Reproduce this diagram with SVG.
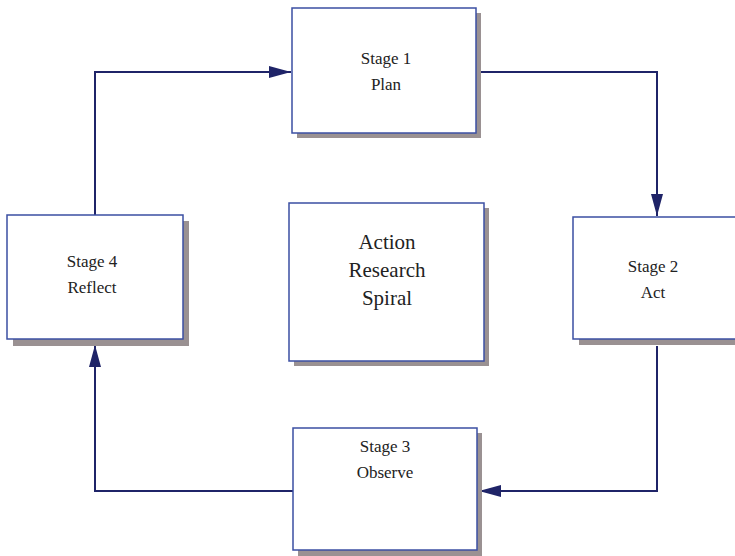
<svg xmlns="http://www.w3.org/2000/svg" width="735" height="556" viewBox="0 0 735 556">
<defs>
<style>
.box{fill:#fff;stroke:#3b4fa3;stroke-width:1.5}
.sh{fill:#9a9192}
.t{font-family:"Liberation Serif",serif;font-size:17px;fill:#222;text-anchor:middle}
.tc{font-family:"Liberation Serif",serif;font-size:21px;fill:#222;text-anchor:middle}
.c{fill:none;stroke:#1f2468;stroke-width:2}
</style>
<marker id="ah" viewBox="0 0 22 12" refX="22" refY="6" markerWidth="22" markerHeight="12" markerUnits="userSpaceOnUse" orient="auto">
<path d="M0,0 L22,6 L0,12 Z" fill="#1f2468"/>
</marker>
</defs>
<rect width="735" height="556" fill="#fff"/>
<g id="connectors">
<path class="c" d="M476,72 H657 V216" marker-end="url(#ah)"/>
<path class="c" d="M657,346 V491 H479" marker-end="url(#ah)"/>
<path class="c" d="M293,491 H95 V345" marker-end="url(#ah)"/>
<path class="c" d="M95,215 V72 H291" marker-end="url(#ah)"/>
</g>
<g id="stage1">
<rect class="sh" x="297" y="13" width="184" height="125"/>
<rect class="box" x="292" y="8" width="184" height="125"/>
<text class="t" x="386" y="64">Stage 1</text>
<text class="t" x="386" y="90">Plan</text>
</g>
<g id="stage2">
<rect class="sh" x="579" y="223" width="170" height="122"/>
<rect class="box" x="573" y="217" width="170" height="122"/>
<text class="t" x="653" y="272">Stage 2</text>
<text class="t" x="653" y="298">Act</text>
</g>
<g id="stage3">
<rect class="sh" x="298" y="433" width="184" height="123"/>
<rect class="box" x="293" y="428" width="184" height="122"/>
<text class="t" x="385" y="452">Stage 3</text>
<text class="t" x="385" y="478">Observe</text>
</g>
<g id="stage4">
<rect class="sh" x="13" y="221" width="176" height="125"/>
<rect class="box" x="7" y="215" width="176" height="124"/>
<text class="t" x="92" y="267">Stage 4</text>
<text class="t" x="92" y="293">Reflect</text>
</g>
<g id="center">
<rect class="sh" x="294" y="208" width="195" height="158"/>
<rect class="box" x="289" y="203" width="195" height="158"/>
<text class="tc" x="387" y="249">Action</text>
<text class="tc" x="387" y="277">Research</text>
<text class="tc" x="387" y="305">Spiral</text>
</g>
</svg>
